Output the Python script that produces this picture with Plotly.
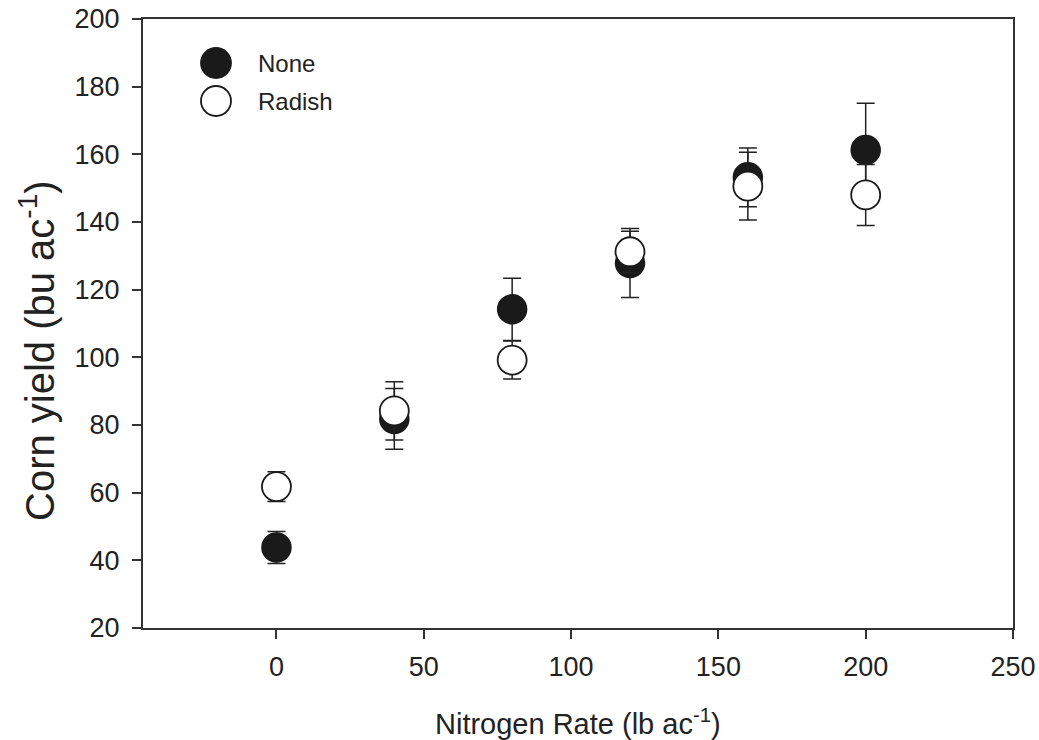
import plotly.graph_objects as go

n_rate = [0, 40, 80, 120, 160, 200]
none_yield = [43.8, 81.8, 114.2, 127.9, 153.2, 161.3]
none_err = [4.7, 9.0, 9.2, 10.2, 8.7, 13.8]
radish_yield = [61.8, 84.2, 99.2, 131.2, 150.6, 148.0]
radish_err = [4.4, 8.6, 5.6, 6.1, 10.0, 9.0]
series_names = ["None", "Radish"]
x_ticks = [0, 50, 100, 150, 200, 250]
y_ticks = [20, 40, 60, 80, 100, 120, 140, 160, 180, 200]
x_title = "Nitrogen Rate (lb ac<sup>-1</sup>)"
y_title = "Corn yield (bu ac<sup>-1</sup>)"

FONT = "Liberation Sans, Arial, sans-serif"
INK = "#222222"

fig = go.Figure()
fig.add_trace(go.Scatter(
    x=n_rate, y=none_yield, mode="markers", name=series_names[0],
    marker=dict(size=29, color="#1a1a1a", line=dict(color="#1a1a1a", width=1.5)),
    error_y=dict(type="data", array=none_err, visible=True, color=INK, thickness=1.5, width=9),
    showlegend=False,
))
fig.add_trace(go.Scatter(
    x=n_rate, y=radish_yield, mode="markers", name=series_names[1],
    marker=dict(size=29, color="white", line=dict(color="#1a1a1a", width=1.8)),
    error_y=dict(type="data", array=radish_err, visible=True, color=INK, thickness=1.5, width=9),
    showlegend=False,
))

W, H = 1039, 740
L, R, T, B = 143, 26, 19, 112
pw, ph = W - L - R, H - T - B


def px(xp):
    return (xp - L) / pw


def py_(yp):
    return 1 - (yp - T) / ph


# legend drawn manually (large symbols as in the reference)
legend_rows = [(63, "#1a1a1a"), (101, "white")]
for (py, fill), name in zip(legend_rows, series_names):
    cx = 216
    r = 15
    fig.add_shape(type="circle", xref="paper", yref="paper",
                  x0=px(cx - r), x1=px(cx + r),
                  y0=py_(py + r), y1=py_(py - r),
                  fillcolor=fill, line=dict(color="#1a1a1a", width=1.8))
    fig.add_annotation(xref="paper", yref="paper", x=px(256), y=py_(py),
                       text=name, showarrow=False, xanchor="left", yanchor="middle",
                       font=dict(family=FONT, size=24, color=INK))

# axis titles
fig.add_annotation(xref="paper", yref="paper", x=px(578), y=py_(722),
                   text=x_title, showarrow=False, xanchor="center", yanchor="middle",
                   font=dict(family=FONT, size=29, color=INK))
fig.add_annotation(xref="paper", yref="paper", x=px(37), y=py_(351),
                   text=y_title, showarrow=False, xanchor="center", yanchor="middle",
                   textangle=-90, font=dict(family=FONT, size=40, color=INK))

axis_common = dict(
    showline=True, linecolor="#333333", linewidth=2, mirror=True,
    ticks="outside", ticklen=9, tickwidth=1.5, tickcolor="#333333",
    showgrid=False, zeroline=False, automargin=False,
    tickfont=dict(family=FONT, size=27, color=INK),
)

fig.update_layout(
    width=W, height=H,
    margin=dict(l=L, r=R, t=T, b=B),
    paper_bgcolor="white", plot_bgcolor="white",
    xaxis=dict(range=[-45.3, 250], tickvals=x_ticks, ticklabelstandoff=5, **axis_common),
    yaxis=dict(range=[20, 200], tickvals=y_ticks, ticklabelstandoff=7, **axis_common),
)

fig.write_html("out.html", config={"displayModeBar": False},
               post_script="document.body.style.margin='0';")
